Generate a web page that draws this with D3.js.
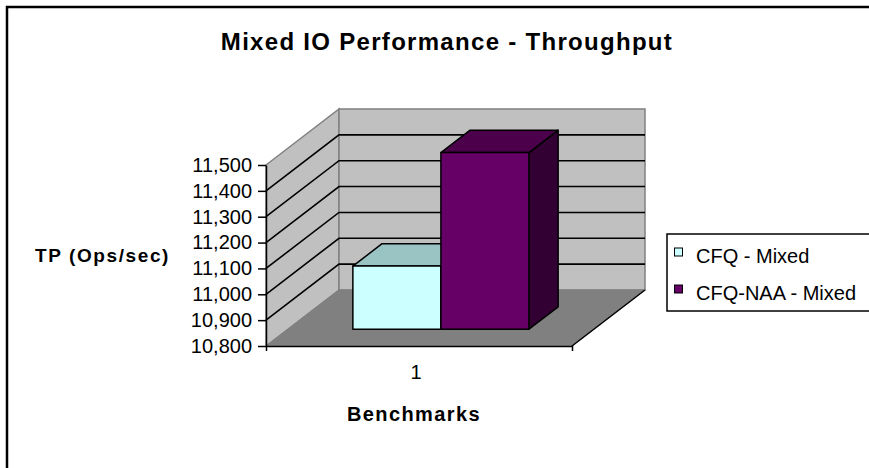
<!DOCTYPE html>
<html>
<head>
<meta charset="utf-8">
<script src="https://cdn.jsdelivr.net/npm/d3@7"></script>
<style>
  html, body { margin: 0; padding: 0; background: #fff; }
  svg { display: block; }
  text { font-family: "Liberation Sans", Arial, sans-serif; fill: #000; }
</style>
</head>
<body>
<svg id="chart" width="869" height="468"></svg>
<script>
// Chart data
const categories = ["1"];
const seriesNames = ["CFQ - Mixed", "CFQ-NAA - Mixed"];
const cfqMixed = [11044];
const cfqNaaMixed = [11483];
const yTicks = [10800, 10900, 11000, 11100, 11200, 11300, 11400, 11500];
const titleText = "Mixed IO Performance - Throughput";
const yTitle = "TP (Ops/sec)";
const xTitle = "Benchmarks";

// Face colours per series: front, top, side
const palette = [
  { front: "#CCFFFF", top: "#9AC4C4", side: "#7A9C9C" },
  { front: "#660066", top: "#4C004C", side: "#330033" }
];

const svg = d3.select("#chart");

// Outer chart frame
svg.append("rect")
  .attr("x", 7).attr("y", 7).attr("width", 890).attr("height", 490)
  .attr("fill", "#fff").attr("stroke", "#000").attr("stroke-width", 2.5);

// Oblique 3D projection: front plane + depth vector
const depth = { dx: 73, dy: -56 };
const proj = (x, y, f) => [x + f * depth.dx, y + f * depth.dy];

const y = d3.scaleLinear().domain([10800, 11500]).range([346, 165]);
const x0 = d3.scaleBand().domain(categories).range([266, 572])
  .paddingInner(0).paddingOuter(0.369);
const x1 = d3.scaleBand().domain(seriesNames).range([0, x0.bandwidth()]);

const xL = 266, xR = 572;
const yTop = y(11500), yBase = y(10800);
const poly = pts => pts.map(p => p.join(",")).join(" ");

// Left wall
svg.append("polygon")
  .attr("points", poly([[xL, yTop], proj(xL, yTop, 1), proj(xL, yBase, 1), [xL, yBase]]))
  .attr("fill", "#C0C0C0").attr("stroke", "#808080").attr("stroke-width", 1.5);

// Back wall
svg.append("polygon")
  .attr("points", poly([proj(xL, yTop, 1), proj(xR, yTop, 1), proj(xR, yBase, 1), proj(xL, yBase, 1)]))
  .attr("fill", "#C0C0C0").attr("stroke", "#808080").attr("stroke-width", 1.5);

// Floor
svg.append("polygon")
  .attr("points", poly([[xL, yBase], [xR, yBase], proj(xR, yBase, 1), proj(xL, yBase, 1)]))
  .attr("fill", "#808080").attr("stroke", "#808080").attr("stroke-width", 1);
svg.append("line")
  .attr("x1", xR).attr("y1", yBase)
  .attr("x2", proj(xR, yBase, 1)[0]).attr("y2", proj(xR, yBase, 1)[1])
  .attr("stroke", "#000").attr("stroke-width", 1.5);

// Gridlines across the left and back walls
const gridVals = yTicks.filter(v => v > 10800 && v < 11500);
const grid = svg.append("g").attr("stroke", "#000").attr("stroke-width", 1.6).attr("fill", "none");
gridVals.forEach(v => {
  const a = [xL, y(v)], b = proj(xL, y(v), 1), c = proj(xR, y(v), 1);
  grid.append("polyline").attr("points", poly([a, b, c]));
});

// Bars (front depth 0.3, depth 0.4 of the floor)
const f0 = 0.3, fd = 0.4;
const seriesValues = [cfqMixed, cfqNaaMixed];
const bars = svg.append("g").attr("stroke", "#000").attr("stroke-width", 1.5)
  .attr("stroke-linejoin", "round");
categories.forEach((cat, ci) => {
  seriesNames.forEach((name, si) => {
    const v = seriesValues[si][ci];
    const xa = x0(cat) + x1(name), xb = xa + x1.bandwidth();
    const yt = y(v), yb = y(10800);
    const p = (xx, yy, f) => proj(xx, yy, f);
    const col = palette[si];
    // side face
    bars.append("polygon").attr("fill", col.side)
      .attr("points", poly([p(xb, yt, f0), p(xb, yt, f0 + fd), p(xb, yb, f0 + fd), p(xb, yb, f0)]));
    // top face
    bars.append("polygon").attr("fill", col.top)
      .attr("points", poly([p(xa, yt, f0), p(xb, yt, f0), p(xb, yt, f0 + fd), p(xa, yt, f0 + fd)]));
    // front face
    bars.append("polygon").attr("fill", col.front)
      .attr("points", poly([p(xa, yt, f0), p(xb, yt, f0), p(xb, yb, f0), p(xa, yb, f0)]));
  });
});

// Value axis
const yAxis = svg.append("g").attr("transform", `translate(${xL},0)`)
  .call(d3.axisLeft(y).tickValues(yTicks).tickFormat(d3.format(","))
    .tickSizeInner(8).tickSizeOuter(0).tickPadding(6));
yAxis.selectAll("text").style("font-size", "20px").style("font-family", '"Liberation Sans", Arial, sans-serif');
yAxis.selectAll("line, path").attr("stroke", "#000").attr("stroke-width", 1.5);

// Category axis
const xAxisScale = d3.scaleBand().domain(categories).range([xL, xR]);
const xAxis = svg.append("g").attr("transform", `translate(0,${yBase})`)
  .call(d3.axisBottom(xAxisScale).tickSizeInner(0).tickSizeOuter(5).tickPadding(19));
xAxis.selectAll("text").style("font-size", "20px").style("font-family", '"Liberation Sans", Arial, sans-serif')
  .attr("dx", "-3");
xAxis.selectAll("path").attr("stroke", "#000").attr("stroke-width", 1.5);

// Titles
svg.append("text").attr("x", 447).attr("y", 50).attr("text-anchor", "middle")
  .style("font-size", "24px").style("font-weight", "bold").style("letter-spacing", "1.3px")
  .text(titleText);
svg.append("text").attr("x", 35).attr("y", 262)
  .style("font-size", "19px").style("font-weight", "bold").style("letter-spacing", "1.6px")
  .text(yTitle);
svg.append("text").attr("x", 414).attr("y", 421).attr("text-anchor", "middle")
  .style("font-size", "20px").style("font-weight", "bold").style("letter-spacing", "1.4px")
  .text(xTitle);

// Legend
const legend = svg.append("g");
legend.append("rect").attr("x", 667).attr("y", 234).attr("width", 230).attr("height", 77)
  .attr("fill", "#fff").attr("stroke", "#000").attr("stroke-width", 1.5);
const legendRows = [263, 300];
seriesNames.forEach((name, i) => {
  legend.append("rect").attr("x", 674.5).attr("y", legendRows[i] - 15).attr("width", 8).attr("height", 8)
    .attr("fill", palette[i].front).attr("stroke", "#000").attr("stroke-width", 1);
  legend.append("text").attr("x", 696).attr("y", legendRows[i])
    .style("font-size", "20px").text(name);
});
</script>
</body>
</html>
